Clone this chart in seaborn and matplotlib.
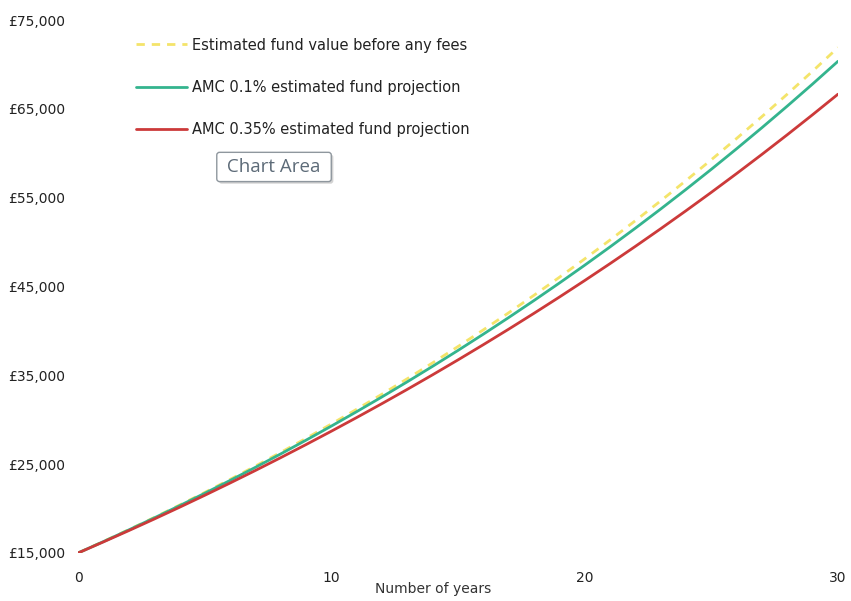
import matplotlib
matplotlib.use("Agg")
import matplotlib.pyplot as plt
import matplotlib.ticker as mticker
import matplotlib.patheffects as pe
import seaborn as sns
import pandas as pd

# Projected fund values (GBP) by year
years = list(range(0, 31))

before_fees = [15000, 16296, 17624, 18986, 20382, 21812, 23279, 24782, 26322, 27901,
               29520, 31179, 32879, 34622, 36409, 38240, 40117, 42041, 44013, 46034,
               48106, 50230, 52406, 54637, 56924, 59269, 61671, 64134, 66658, 69246,
               71898]
amc_010 = [15000, 16281, 17593, 18936, 20311, 21720, 23162, 24639, 26151, 27700,
           29286, 30910, 32573, 34275, 36019, 37804, 39633, 41505, 43422, 45385,
           47395, 49454, 51562, 53720, 55930, 58194, 60511, 62885, 65315, 67803,
           70352]
amc_035 = [15000, 16244, 17514, 18811, 20137, 21491, 22874, 24286, 25730, 27204,
           28710, 30248, 31819, 33424, 35064, 36739, 38450, 40197, 41983, 43806,
           45669, 47572, 49516, 51501, 53530, 55601, 57718, 59880, 62088, 64344,
           66649]

series_names = [
    "Estimated fund value before any fees",
    "AMC 0.1% estimated fund projection",
    "AMC 0.35% estimated fund projection",
]
y_ticks = [15000, 25000, 35000, 45000, 55000, 65000, 75000]
x_ticks = [0, 10, 20, 30]

frames = []
for name, vals in zip(series_names, [before_fees, amc_010, amc_035]):
    frames.append(pd.DataFrame({"year": years, "value": vals, "series": name}))
df = pd.concat(frames, ignore_index=True)

sns.set_style("white")
plt.rcParams["font.family"] = ["DejaVu Sans"]

palette = {
    series_names[0]: "#f4e46a",
    series_names[1]: "#34b48e",
    series_names[2]: "#cc3a3a",
}
dashes = {
    series_names[0]: (3, 2.5),
    series_names[1]: "",
    series_names[2]: "",
}

fig = plt.figure(figsize=(8.51, 6.01), dpi=100)
ax = fig.add_axes([0.0917, 0.0799, 0.893, 0.8868])

sns.lineplot(data=df, x="year", y="value", hue="series", style="series",
             hue_order=series_names, style_order=series_names,
             palette=palette, dashes=dashes, linewidth=2.0, ax=ax)

ax.set_xlim(0, 30)
ax.set_ylim(15000, 75000)
ax.set_xticks(x_ticks)
ax.set_yticks(y_ticks)
ax.yaxis.set_major_formatter(mticker.FuncFormatter(lambda v, p: f"£{int(v):,}"))
ax.tick_params(axis="both", length=0, labelsize=10, colors="#222222")
ax.tick_params(axis="x", pad=13)
ax.tick_params(axis="y", pad=9)
for s in ax.spines.values():
    s.set_visible(False)

ax.set_ylabel("")
ax.set_xlabel("Number of years", fontsize=10, color="#333333")
ax.xaxis.set_label_coords(0.467, -0.055)

leg = ax.legend(loc="upper left", bbox_to_anchor=(0.076, 0.967),
                frameon=False, fontsize=10.5, labelspacing=1.86,
                handlelength=3.5, handletextpad=0.35,
                borderaxespad=0, borderpad=0)
for t in leg.get_texts():
    t.set_color("#222222")
for h in leg.get_lines():
    h.set_linewidth(2.0)

# tooltip-style label box
tip = fig.text(0.322, 0.7222, " Chart Area ", ha="center", va="center",
               fontsize=13.5, color="#5d6b78", family=["Open Sans", "DejaVu Sans"],
               bbox=dict(boxstyle="round,pad=0.3,rounding_size=0.15",
                         facecolor="white", edgecolor="#8f979e", linewidth=1.0))
tip.get_bbox_patch().set_path_effects(
    [pe.SimplePatchShadow(offset=(1.5, -1.5), alpha=0.25), pe.Normal()])

fig.savefig("out.png", dpi=100)
